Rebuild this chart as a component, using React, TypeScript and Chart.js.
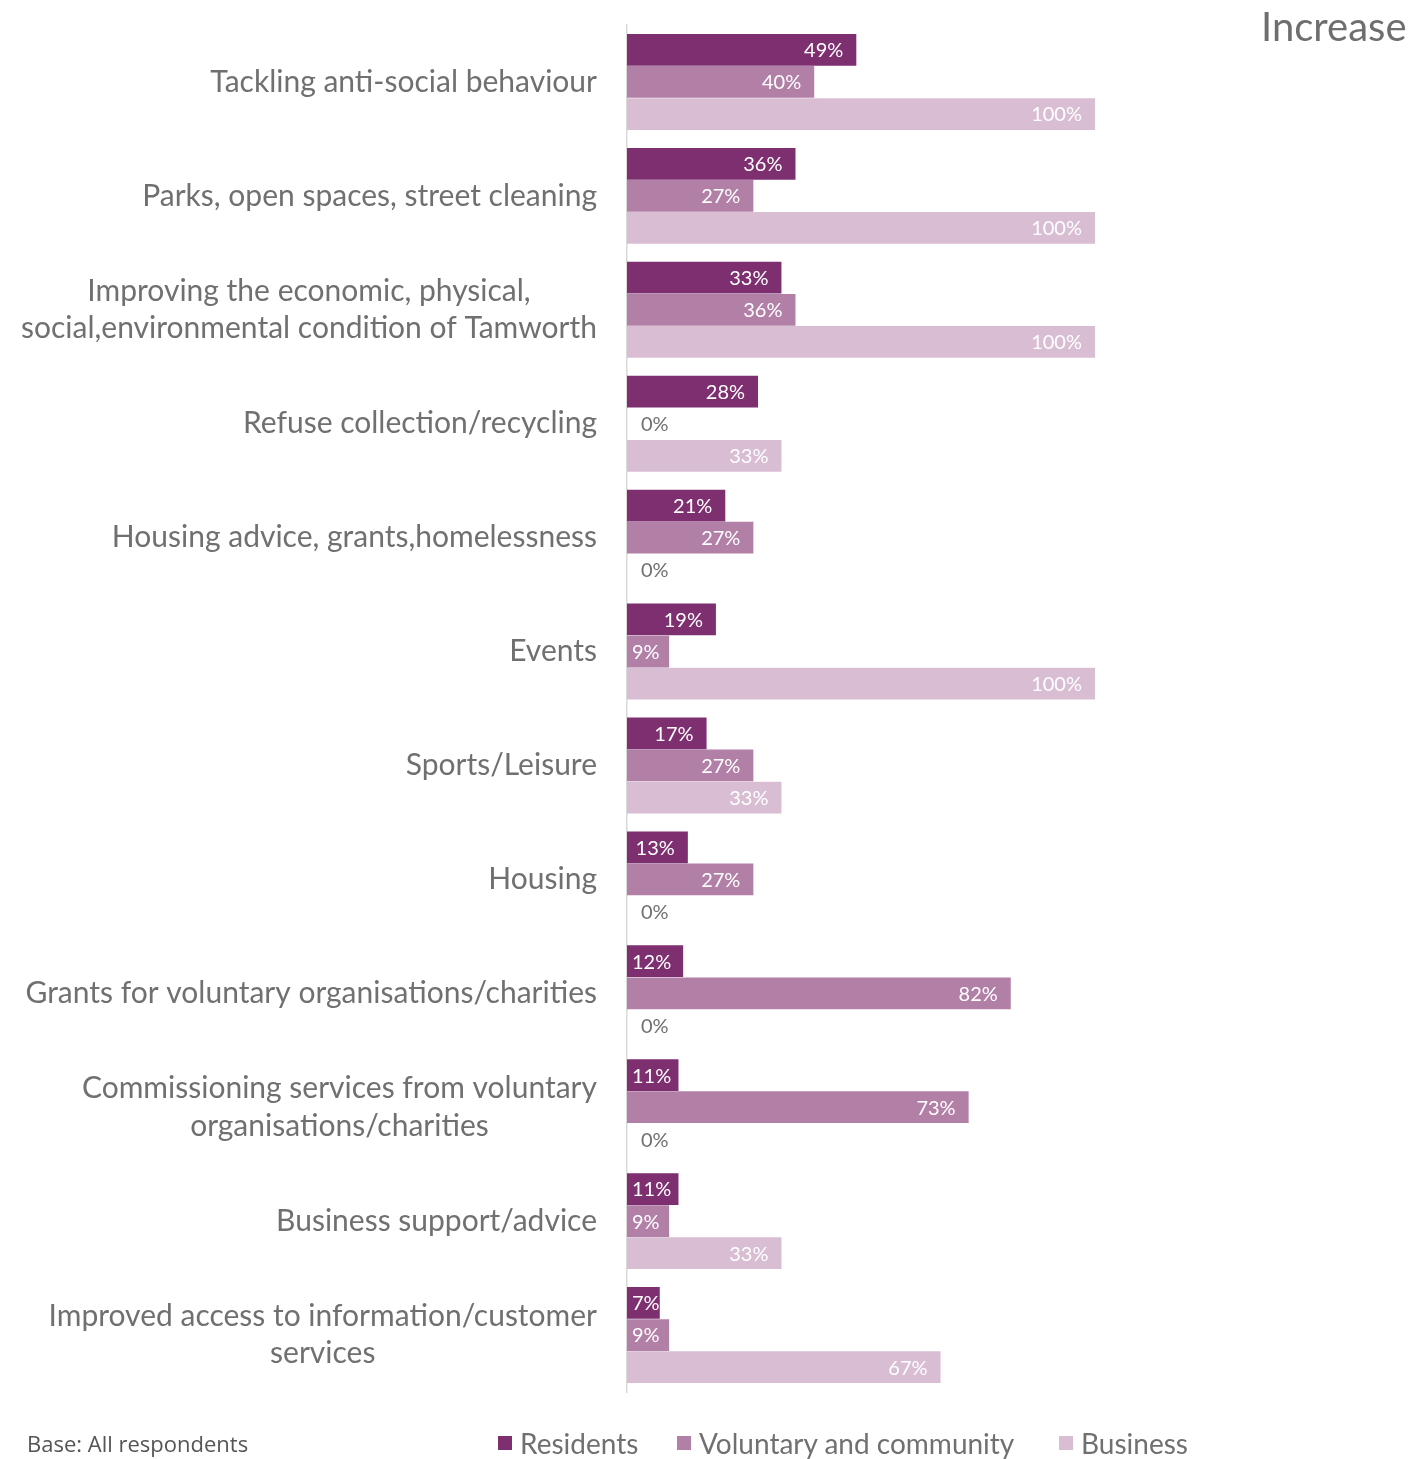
import React, { useEffect, useRef } from "react";
import { Chart, registerables } from "chart.js";

Chart.register(...registerables);

const categories: string[][] = [
  ["Tackling anti-social behaviour"],
  ["Parks, open spaces, street cleaning"],
  ["Improving the economic, physical,", "social,environmental condition of Tamworth"],
  ["Refuse collection/recycling"],
  ["Housing advice, grants,homelessness"],
  ["Events"],
  ["Sports/Leisure"],
  ["Housing"],
  ["Grants for voluntary organisations/charities"],
  ["Commissioning services from voluntary", "organisations/charities"],
  ["Business support/advice"],
  ["Improved access to information/customer", "services"],
];

const residents = [49, 36, 33, 28, 21, 19, 17, 13, 12, 11, 11, 7];
const voluntary = [40, 27, 36, 0, 27, 9, 27, 27, 82, 73, 9, 9];
const business = [100, 100, 100, 33, 0, 100, 33, 0, 0, 0, 33, 67];

const seriesNames = ["Residents", "Voluntary and community", "Business"];
const seriesColors = ["#7E2F70", "#B27FA7", "#D9BED3"];

const FONT = "Lato, 'Open Sans', sans-serif";
const GREY = "#707070";

const categoryLabelPlugin = {
  id: "categoryLabels",
  afterDraw(chart: any) {
    const ctx = chart.ctx;
    const y = chart.scales.y;
    ctx.save();
    ctx.font = `30px ${FONT}`;
    ctx.fillStyle = GREY;
    ctx.textAlign = "center";
    ctx.textBaseline = "middle";
    const rightEdge = 597;
    const lineH = 37.5;
    categories.forEach((lines, i) => {
      const cy = y.getPixelForValue(i);
      const maxW = Math.max(...lines.map((l) => ctx.measureText(l).width));
      const cx = rightEdge - maxW / 2;
      const start = cy - ((lines.length - 1) * lineH) / 2;
      lines.forEach((l, j) => ctx.fillText(l, cx, start + j * lineH));
    });
    ctx.restore();
  },
};

const valueLabelPlugin = {
  id: "valueLabels",
  afterDatasetsDraw(chart: any) {
    const ctx = chart.ctx;
    ctx.save();
    ctx.font = `20px ${FONT}`;
    ctx.textBaseline = "middle";
    chart.data.datasets.forEach((ds: any, di: number) => {
      const meta = chart.getDatasetMeta(di);
      meta.data.forEach((bar: any, i: number) => {
        const v = ds.data[i];
        const text = `${v}%`;
        const w = ctx.measureText(text).width;
        const start = bar.base;
        const end = bar.x;
        ctx.textAlign = "left";
        if (v === 0) {
          ctx.fillStyle = GREY;
          ctx.fillText(text, start + 14, bar.y + 1);
          return;
        }
        ctx.fillStyle = "#ffffff";
        let left = end - 13 - w;
        if (left < start + 5) left = start + 5;
        ctx.fillText(text, left, bar.y + 1);
      });
    });
    ctx.restore();
  },
};

export default function App() {
  const ref = useRef<HTMLCanvasElement | null>(null);

  useEffect(() => {
    if (!ref.current) return;
    const chart = new Chart(ref.current, {
      type: "bar",
      data: {
        labels: categories.map((l) => l.join(" ")),
        datasets: [residents, voluntary, business].map((d, i) => ({
          label: seriesNames[i],
          data: d,
          backgroundColor: seriesColors[i],
          borderWidth: 0,
          categoryPercentage: 0.845,
          barPercentage: 0.99,
        })),
      },
      options: {
        indexAxis: "y",
        animation: false,
        responsive: false,
        devicePixelRatio: 1,
        layout: { padding: { left: 627, right: 329, top: 25, bottom: 67 } },
        plugins: {
          legend: { display: false },
          tooltip: { enabled: false },
        },
        scales: {
          x: { display: false, min: 0, max: 100 },
          y: {
            display: true,
            ticks: { display: false },
            grid: { display: false },
            border: { display: true, color: "#d9d9d9", width: 1.5 },
            afterFit: (s: any) => {
              s.width = 0;
            },
          },
        },
      },
      plugins: [categoryLabelPlugin, valueLabelPlugin],
    });
    return () => chart.destroy();
  }, []);

  const legendLefts = [498, 677, 1059];

  return (
    <div style={{ position: "absolute", left: 0, top: 0, width: 1424, height: 1459, background: "#fff" }}>
      <canvas ref={ref} width={1424} height={1459} style={{ position: "absolute", left: 0, top: 0, width: 1424, height: 1459 }} />
      <div style={{ position: "absolute", left: 1261, top: 2, fontFamily: FONT, fontSize: 40, color: "#6e6e6e" }}>Increase</div>
      <div style={{ position: "absolute", left: 27, top: 1428, fontFamily: "'Open Sans', sans-serif", fontSize: 22, lineHeight: "30px", color: "#555" }}>
        Base: All respondents
      </div>
      {seriesNames.map((n, i) => (
        <div key={n} style={{ position: "absolute", left: legendLefts[i], top: 1426, display: "flex", alignItems: "center", fontFamily: FONT, fontSize: 28, lineHeight: "34px", color: GREY, whiteSpace: "nowrap" }}>
          <span style={{ display: "inline-block", width: 14, height: 14, background: seriesColors[i], marginRight: 8 }} />
          {n}
        </div>
      ))}
    </div>
  );
}
